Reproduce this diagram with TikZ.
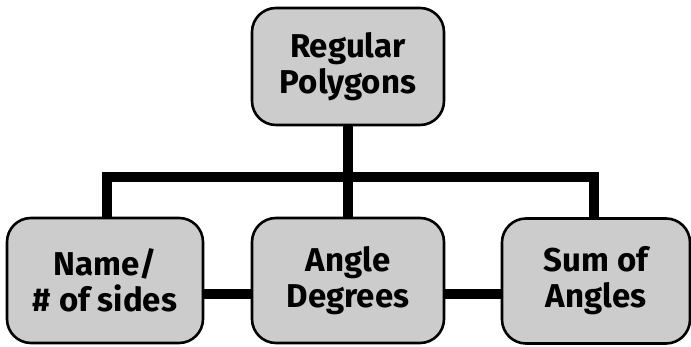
\documentclass[tikz,border=0pt]{standalone}
\usepackage{fontspec}
\setmainfont{Fira Sans}
\usetikzlibrary{backgrounds}
\definecolor{boxgray}{HTML}{CCCCCC}
\tikzset{
  box/.style={draw=black, line width=2.6pt, fill=boxgray, rounded corners=24pt,
    align=center, font=\fontsize{33}{36}\selectfont\bfseries, inner sep=0pt},
  link/.style={line width=10pt, black}
}
\begin{document}
\begin{tikzpicture}[x=1pt,y=1pt]
\useasboundingbox (0,0) rectangle (691,347);
\node[box, minimum width=192pt, minimum height=117pt] (top) at (348,280.5) {Regular\\Polygons};
\node[box, minimum width=196pt, minimum height=125pt] (left) at (105,66.5) {Name/\\\# of sides};
\node[box, minimum width=192pt, minimum height=125pt] (mid) at (348,66.5) {Angle\\Degrees};
\node[box, minimum width=188pt, minimum height=125pt] (right) at (596,66) {Sum of\\Angles};
\begin{scope}[on background layer]
\draw[link] (top.south) -- (mid.north);
\draw[link, line cap=butt] ([xshift=2pt]left.north) |- (348,170) -| ([xshift=-2pt]right.north);
\draw[link] (left.east) ++(0,-14) coordinate (lc) -- (lc -| mid.west);
\draw[link] (mid.east) ++(0,-14) coordinate (rc) -- (rc -| right.west);
\end{scope}
\end{tikzpicture}
\end{document}
